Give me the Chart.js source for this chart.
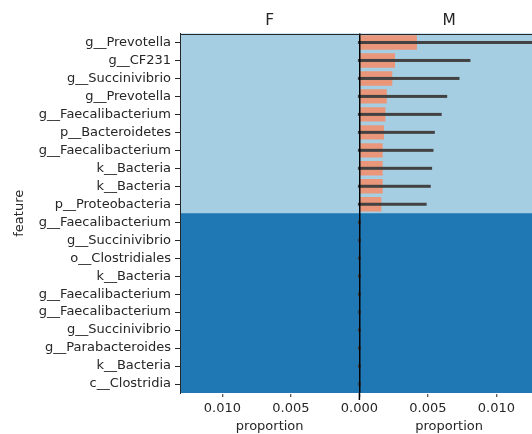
<!DOCTYPE html>
<html>
<head>
<meta charset="utf-8">
<script src="https://cdn.jsdelivr.net/npm/chart.js@4.4.1/dist/chart.umd.min.js"></script>
<style>
html, body { margin: 0; padding: 0; overflow: hidden; background: #fff; }
canvas { position: absolute; left: 0; top: 0; }
</style>
</head>
<body>
<canvas id="myChart" width="540" height="434"></canvas>
<script>
var features = ['g__Prevotella', 'g__CF231', 'g__Succinivibrio', 'g__Prevotella', 'g__Faecalibacterium',
    'p__Bacteroidetes', 'g__Faecalibacterium', 'k__Bacteria', 'k__Bacteria', 'p__Proteobacteria',
    'g__Faecalibacterium', 'g__Succinivibrio', 'o__Clostridiales', 'k__Bacteria', 'g__Faecalibacterium',
    'g__Faecalibacterium', 'g__Succinivibrio', 'g__Parabacteroides', 'k__Bacteria', 'c__Clostridia'];
var panels = ['F', 'M'];
var fValues = [0, 0, 0, 0, 0, 0, 0, 0, 0, 0, 0, 0, 0, 0, 0, 0, 0, 0, 0, 0];
var mValues = [0.0042, 0.0026, 0.0024, 0.0020, 0.0019, 0.0018, 0.0017, 0.0017, 0.0017, 0.0016,
    0, 0, 0, 0, 0, 0, 0, 0, 0, 0];
var mErrLow = [0, 0, 0, 0, 0, 0, 0, 0, 0, 0, 0, 0, 0, 0, 0, 0, 0, 0, 0, 0];
var mErrHigh = [0.0135, 0.0080, 0.0072, 0.0063, 0.0059, 0.0054, 0.0053, 0.0052, 0.0051, 0.0048,
    0, 0, 0, 0, 0, 0, 0, 0, 0, 0];
var featureGroup = [0, 0, 0, 0, 0, 0, 0, 0, 0, 0, 1, 1, 1, 1, 1, 1, 1, 1, 1, 1];
var tickValues = [-0.010, -0.005, 0, 0.005, 0.010];
var tickLabels = ['0.010', '0.005', '0.000', '0.005', '0.010'];

var bandColors = ['#a6cee3', '#1f78b4'];
var textColor = '#262626';
var font = { family: 'DejaVu Sans', size: 13 };

// row backgrounds
var bandPlugin = {
    id: 'bands',
    beforeDraw: function(chart) {
        var ctx = chart.ctx, x = chart.scales.x, y = chart.scales.y;
        var half = (y.getPixelForValue(1) - y.getPixelForValue(0)) / 2;
        ctx.save();
        ctx.fillStyle = '#fff';
        ctx.fillRect(0, 0, chart.width, chart.height);
        for (var i = 0; i < features.length; i++) {
            var top = y.getPixelForValue(i) - half;
            var h = i < features.length - 1 ? half * 2 + 1 : y.bottom - top;
            ctx.fillStyle = bandColors[featureGroup[i]];
            ctx.fillRect(x.left, top, x.right - x.left, h);
        }
        ctx.restore();
    }
};

// error bars of the M panel
var errorPlugin = {
    id: 'errorBars',
    afterDatasetsDraw: function(chart) {
        var ctx = chart.ctx, x = chart.scales.x, y = chart.scales.y;
        var lw = 3;
        ctx.save();
        ctx.fillStyle = '#424242';
        for (var i = 0; i < features.length; i++) {
            var x0 = x.getPixelForValue(mErrLow[i]) - lw / 2;
            var x1 = x.getPixelForValue(mErrHigh[i]) + lw / 2;
            var yc = y.getPixelForValue(i);
            ctx.fillRect(x0, yc - lw / 2, x1 - x0, lw);
        }
        ctx.restore();
    }
};

// panel titles, x labels, top spine
var textPlugin = {
    id: 'panelText',
    afterDraw: function(chart) {
        var ctx = chart.ctx, x = chart.scales.x, y = chart.scales.y;
        var zero = x.getPixelForValue(0);
        var centers = [(x.left + zero) / 2, (zero + x.right) / 2];
        ctx.save();
        ctx.fillStyle = '#fff';
        ctx.fillRect(0, 0, chart.width, Math.floor(y.top) - 1);
        ctx.strokeStyle = textColor;
        ctx.lineWidth = 1;
        ctx.beginPath();
        ctx.moveTo(x.left, Math.round(y.top) + 0.5);
        ctx.lineTo(x.right, Math.round(y.top) + 0.5);
        ctx.stroke();
        ctx.strokeStyle = '#000';
        ctx.lineWidth = 1.5;
        ctx.beginPath();
        ctx.moveTo(zero, y.bottom);
        ctx.lineTo(zero, y.bottom + 7);
        ctx.stroke();
        ctx.fillStyle = textColor;
        ctx.textAlign = 'center';
        ctx.textBaseline = 'middle';
        for (var i = 0; i < panels.length; i++) {
            ctx.font = '15.4px "DejaVu Sans"';
            ctx.fillText(panels[i], centers[i], 21);
            ctx.font = '13px "DejaVu Sans"';
            ctx.fillText('proportion', centers[i], 427);
        }
        ctx.restore();
    }
};

var ctx = document.getElementById('myChart').getContext('2d');
var myChart = new Chart(ctx, {
    type: 'bar',
    data: {
        labels: features,
        datasets: [{
            label: 'M',
            data: mValues,
            backgroundColor: '#e9967a',
            barPercentage: 0.8,
            categoryPercentage: 1,
            grouped: false
        }, {
            label: 'F',
            data: fValues.map(function(v) { return -v; }),
            backgroundColor: '#e9967a',
            barPercentage: 0.8,
            categoryPercentage: 1,
            grouped: false
        }]
    },
    options: {
        indexAxis: 'y',
        responsive: false,
        animation: false,
        layout: { padding: { left: 0, right: 1.2, top: 33.5, bottom: 0 } },
        plugins: {
            legend: { display: false },
            tooltip: { enabled: false }
        },
        scales: {
            x: {
                type: 'linear',
                min: -0.0131,
                max: 0.0131,
                afterBuildTicks: function(s) {
                    s.ticks = tickValues.map(function(v) { return { value: v }; });
                },
                afterFit: function(s) { s.height = 41; },
                grid: {
                    z: 1,
                    color: function(c) { return c.tick && c.tick.value === 0 ? '#000' : 'rgba(0,0,0,0)'; },
                    lineWidth: 1.5,
                    tickColor: textColor,
                    tickWidth: 1,
                    tickLength: 4
                },
                border: { color: textColor, width: 1 },
                ticks: {
                    callback: function(v, i) { return tickLabels[i]; },
                    color: textColor,
                    font: font,
                    padding: 4,
                    maxRotation: 0,
                    autoSkip: false
                }
            },
            y: {
                type: 'category',
                offset: true,
                afterFit: function(s) { s.width = 180; },
                grid: {
                    offset: false,
                    drawOnChartArea: false,
                    color: textColor,
                    tickLength: 5,
                    tickWidth: 1
                },
                border: { color: textColor, width: 1 },
                ticks: { color: textColor, font: font, padding: 4, autoSkip: false },
                title: {
                    display: true,
                    text: 'feature',
                    color: textColor,
                    font: font,
                    padding: { top: 12, bottom: 0 }
                }
            }
        }
    },
    plugins: [bandPlugin, errorPlugin, textPlugin]
});
</script>
</body>
</html>
